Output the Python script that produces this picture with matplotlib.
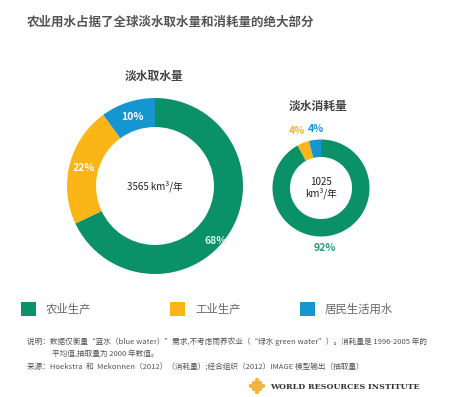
import numpy as np
import matplotlib.pyplot as plt

plt.rcParams['font.family'] = ['Noto Sans CJK SC', 'DejaVu Sans']

W, H = 455, 397

categories = ['农业生产', '工业生产', '居民生活用水']
colors = ['#0a9168', '#fbb516', '#1696d1']
withdrawal = [68, 22, 10]
consumption = [92, 4, 4]
withdrawal_total = '3565 km³/年'
consumption_total = '1025\nkm³/年'


def px(x, y):
    return x / W, 1 - y / H


def donut_axes(fig, cx, cy, r):
    return fig.add_axes([(cx - r) / W, 1 - (cy + r) / H, 2 * r / W, 2 * r / H])


def label_at(ax, text, ang, dist, color, size):
    a = np.deg2rad(ang)
    ax.text(dist * np.cos(a), dist * np.sin(a), text, ha='center', va='center',
            color=color, fontsize=size, fontweight='bold')


fig = plt.figure(figsize=(W / 100, H / 100), dpi=100)
fig.patch.set_facecolor('white')

fig.text(*px(27, 22), '农业用水占据了全球淡水取水量和消耗量的绝大部分',
         fontsize=9, fontweight='bold', color='#555555', va='center', ha='left')

# big donut: withdrawal
ax1 = donut_axes(fig, 155, 186, 88)
ax1.pie(withdrawal, colors=colors, startangle=90, counterclock=False,
        wedgeprops=dict(width=0.33, edgecolor='none'))
ax1.set_aspect('equal')
ax1.set_xlim(-1, 1)
ax1.set_ylim(-1, 1)
ax1.axis('off')
label_at(ax1, f'{withdrawal[0]}%', -42, 0.93, '#d9f2ea', 7.5)
label_at(ax1, f'{withdrawal[1]}%', 166, 0.83, 'white', 7.5)
label_at(ax1, f'{withdrawal[2]}%', 108, 0.83, 'white', 7.5)
ax1.text(0, 0, withdrawal_total, ha='center', va='center', fontsize=7,
         color='#222222')
fig.text(*px(154, 76), '淡水取水量', fontsize=8.5, fontweight='bold',
         color='#444444', ha='center', va='center')

# small donut: consumption
ax2 = donut_axes(fig, 321, 188, 48.5)
ax2.pie(consumption, colors=colors, startangle=90, counterclock=False,
        wedgeprops=dict(width=0.36, edgecolor='none'))
ax2.set_aspect('equal')
ax2.set_xlim(-1, 1)
ax2.set_ylim(-1, 1)
ax2.axis('off')
label_at(ax2, f'{consumption[0]}%', -86, 1.24, '#2a9a78', 7.5)
label_at(ax2, f'{consumption[1]}%', 113, 1.27, '#fbb516', 7.5)
label_at(ax2, f'{consumption[2]}%', 95, 1.22, '#1696d1', 7.5)
ax2.text(0, 0, consumption_total, ha='center', va='center', fontsize=7,
         color='#222222', linespacing=1.1)
fig.text(*px(318, 106), '淡水消耗量', fontsize=8.5, fontweight='bold',
         color='#444444', ha='center', va='center')

# legend
leg_x = [21, 170, 300]
for x, c, name in zip(leg_x, colors, categories):
    fig.patches.append(plt.Rectangle(px(x, 316), 15 / W, 14 / H,
                                     transform=fig.transFigure,
                                     facecolor=c, edgecolor='none'))
    fig.text(*px(x + 25, 309), name, fontsize=8.2, color='#666666',
             ha='left', va='center')

note_c = '#555555'
fig.text(*px(27, 342), '说明：数据仅衡量“蓝水（blue water）”需求,不考虑雨养农业（“绿水 green water”）。消耗量是 1996-2005 年的',
         fontsize=5.5, color=note_c, ha='left', va='center')
fig.text(*px(52, 355), '平均值,抽取量为 2000 年数值。',
         fontsize=5.5, color=note_c, ha='left', va='center')
fig.text(*px(27, 368), '来源：Hoekstra  和  Mekonnen（2012）（消耗量）;经合组织（2012）IMAGE 模型输出（抽取量）',
         fontsize=5.5, color=note_c, ha='left', va='center')

# logo
axl = fig.add_axes([249 / W, 1 - 394 / H, 16 / W, 16 / H])
pts = [(i, j) for i in range(-2, 3) for j in range(-2, 3) if abs(i) + abs(j) <= 2]
axl.scatter([p[0] for p in pts], [p[1] for p in pts], s=9, color='#f3b23a',
            edgecolors='none')
axl.set_xlim(-2.6, 2.6)
axl.set_ylim(-2.6, 2.6)
axl.axis('off')
fig.text(*px(270, 387), 'WORLD RESOURCES INSTITUTE', fontsize=5.8,
         fontweight='bold', color='#333333', ha='left', va='center',
         family='DejaVu Serif')

fig.savefig('out.png', dpi=100)
